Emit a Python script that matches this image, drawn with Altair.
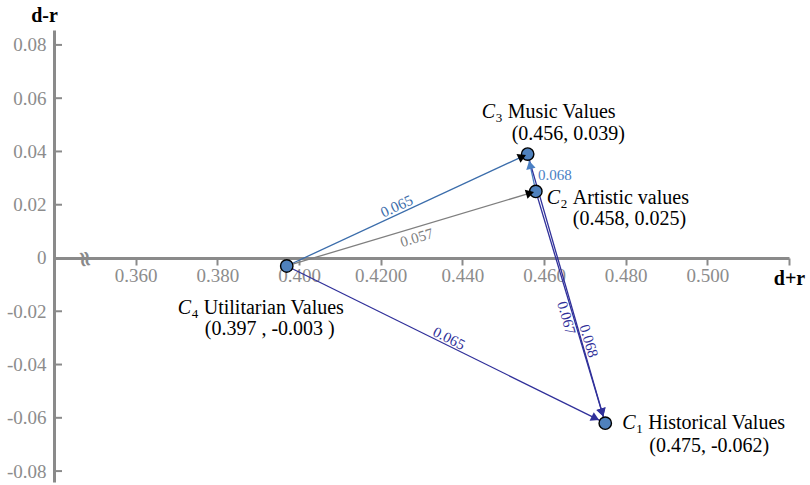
import math

import altair as alt
import pandas as pd

# ---------------------------------------------------------------------------
# Criteria in the cause-effect plane: prominence (d+r) vs. relation (d-r)
# ---------------------------------------------------------------------------
crit_code = ["1", "2", "3", "4"]
crit_name = ["Historical Values", "Artistic values", "Music Values", "Utilitarian Values"]
crit_d_plus_r = [0.475, 0.458, 0.456, 0.397]
crit_d_minus_r = [-0.062, 0.025, 0.039, -0.003]
crit_coord_text = ["(0.475, -0.062)", "(0.458, 0.025)", "(0.456, 0.039)", "(0.397 , -0.003 )"]

# Directed influence relations between criteria
edge_source = ["4", "4", "2", "3", "2", "4"]
edge_target = ["3", "2", "3", "1", "1", "1"]
edge_value = [0.065, 0.057, 0.068, 0.067, 0.068, 0.065]

# Axis ticks
x_tick_values = [0.36, 0.38, 0.40, 0.42, 0.44, 0.46, 0.48, 0.50, 0.52]
x_tick_labels = ["0.360", "0.380", "0.400", "0.4200", "0.440", "0.460", "0.480", "0.500", ""]
y_tick_values = [-0.08, -0.06, -0.04, -0.02, 0, 0.02, 0.04, 0.06, 0.08]

# ---------------------------------------------------------------------------
# Layout and styling
# ---------------------------------------------------------------------------
W, H = 735, 452
X_DOMAIN = [0.34, 0.52]
Y_DOMAIN = [-0.0841, 0.0856]
SERIF = "Liberation Serif"
AXIS_GRAY = "#8a8a8a"
LABEL_GRAY = "#8c8c8c"
DOT_BLUE = "#4f81bd"
DOT_R = 7

edge_color = ["#3b6dab", "#7f7f7f", "#4a80c4", "#30309a", "#30309a", "#30309a"]
head_color = ["black", "black", "#4a80c4", "#30309a", "#30309a", "#30309a"]
head_back = [6, 6, 11, 11, 11, 11]          # arrowhead centre distance from target (px)
label_t = [0.47, 0.51, 0.5, 0.6, 0.655, 0.5]  # label position along each edge
label_off = [-8, 10, None, 8, -8, -7]        # perpendicular offset (px); None = flat label
flat_shift = (23, 2)                          # offset of flat labels from edge midpoint (px)

# pixel offsets (from the point) of the name row start and the coordinate row start
label_layout = {
    "1": {"name": (17, 0), "coord": (44, 23)},
    "2": {"name": (11, 7), "coord": (37, 28)},
    "3": {"name": (-46, -42), "coord": (-16, -20)},
    "4": {"name": (-109, 42), "coord": (-82, 63)},
}


def to_px(x, y):
    px = (x - X_DOMAIN[0]) / (X_DOMAIN[1] - X_DOMAIN[0]) * W
    py = (Y_DOMAIN[1] - y) / (Y_DOMAIN[1] - Y_DOMAIN[0]) * H
    return px, py


def to_data(px, py):
    x = X_DOMAIN[0] + px / W * (X_DOMAIN[1] - X_DOMAIN[0])
    y = Y_DOMAIN[1] - py / H * (Y_DOMAIN[1] - Y_DOMAIN[0])
    return x, y


# ---------------------------------------------------------------------------
# Tables
# ---------------------------------------------------------------------------
points = pd.DataFrame({
    "code": crit_code,
    "name": crit_name,
    "x": crit_d_plus_r,
    "y": crit_d_minus_r,
    "coord": crit_coord_text,
})
pos = {c: (x, y) for c, x, y in zip(crit_code, crit_d_plus_r, crit_d_minus_r)}

rows = []
for c, x, y in zip(crit_code, crit_d_plus_r, crit_d_minus_r):
    px, py = to_px(x, y)
    nx, ny = label_layout[c]["name"]
    cx, cy = label_layout[c]["coord"]
    r = {}
    r["c_x"], r["c_y"] = to_data(px + nx, py + ny)
    r["s_x"], r["s_y"] = to_data(px + nx + 14, py + ny + 6)
    r["n_x"], r["n_y"] = to_data(px + nx + 26, py + ny)
    r["k_x"], r["k_y"] = to_data(px + cx, py + cy)
    rows.append(r)
points = pd.concat([points, pd.DataFrame(rows)], axis=1)

edge_rows = []
for i, (s, t) in enumerate(zip(edge_source, edge_target)):
    x1, y1 = pos[s]
    x2, y2 = pos[t]
    sx, sy = to_px(x1, y1)
    tx, ty = to_px(x2, y2)
    a = math.atan2(ty - sy, tx - sx)
    ux, uy = math.cos(a), math.sin(a)
    mx, my = sx + label_t[i] * (tx - sx), sy + label_t[i] * (ty - sy)
    if label_off[i] is None:
        lx, ly = sx + 0.5 * (tx - sx) + flat_shift[0], sy + 0.5 * (ty - sy) + flat_shift[1]
        ang = 0.0
    else:
        lx = mx - math.sin(a) * label_off[i]
        ly = my + math.cos(a) * label_off[i]
        ang = math.degrees(a) % 360
    hx, hy = tx - ux * head_back[i], ty - uy * head_back[i]
    ldx, ldy = to_data(lx, ly)
    hdx, hdy = to_data(hx, hy)
    edge_rows.append({
        "x": x1, "y": y1, "x2": x2, "y2": y2,
        "color": edge_color[i],
        "label": f"{edge_value[i]:.3f}",
        "lx": ldx, "ly": ldy, "angle": ang,
        "hx": hdx, "hy": hdy, "hangle": math.degrees(a) % 360,
        "hcolor": head_color[i],
    })
edges = pd.DataFrame(edge_rows)

yticks = pd.DataFrame({"v": [v for v in y_tick_values if v != 0]})

# ---------------------------------------------------------------------------
# Scales and axes (the same axis definitions are shared by every layer)
# ---------------------------------------------------------------------------
xs = alt.Scale(domain=X_DOMAIN, nice=False, zero=False)
ys = alt.Scale(domain=Y_DOMAIN, nice=False, zero=False)
zero_px = to_px(0.36, 0)[1]
x_offset = -(H - zero_px)

label_array = "[" + ",".join(f"'{s}'" for s in x_tick_labels) + "]"
x_axis = alt.Axis(
    values=x_tick_values,
    labelExpr=f"{label_array}[round((datum.value - {x_tick_values[0]}) / 0.02)]",
    offset=x_offset,
    grid=False,
    domainColor=AXIS_GRAY, domainWidth=3,
    tickColor=AXIS_GRAY, tickWidth=2, tickSize=7,
    labelFont=SERIF, labelFontSize=19, labelColor=LABEL_GRAY,
    labelPadding=2, labelFlush=False, labelOverlap=False,
    title="d+r", titleFont=SERIF, titleFontSize=20, titleFontWeight="bold",
    titleColor="black", titleX=W, titleY=21, titleAlign="center",
    titleBaseline="middle",
)
y_axis = alt.Axis(
    values=y_tick_values,
    labelExpr="datum.value == 0 ? '0' : (datum.value < 0 ? '-' : '') + format(abs(datum.value), '.2f')",
    grid=False, ticks=False,
    domainColor=AXIS_GRAY, domainWidth=3,
    labelFont=SERIF, labelFontSize=19, labelColor=LABEL_GRAY,
    labelPadding=8, labelFlush=False, labelOverlap=False,
    title="d-r", titleFont=SERIF, titleFontSize=20, titleFontWeight="bold",
    titleColor="black", titleAngle=0, titleX=-10, titleY=-15,
    titleAlign="center", titleBaseline="middle",
)


def X(field):
    return alt.X(field, scale=xs, axis=x_axis)


def Y(field):
    return alt.Y(field, scale=ys, axis=y_axis)


# ---------------------------------------------------------------------------
# Layers
# ---------------------------------------------------------------------------
ytick_rules = alt.Chart(yticks).mark_rule(color=AXIS_GRAY, strokeWidth=2).encode(
    y=Y("v:Q"),
    x=alt.value(0),
    x2=alt.value(8),
)

edge_lines = alt.Chart(edges).mark_rule(strokeWidth=1.3).encode(
    x=X("x:Q"),
    y=Y("y:Q"),
    x2="x2:Q",
    y2="y2:Q",
    color=alt.Color("color:N", scale=None),
)

edge_labels = alt.Chart(edges).mark_text(
    font=SERIF, fontSize=15, align="center", baseline="middle"
).encode(
    x=X("lx:Q"),
    y=Y("ly:Q"),
    text="label:N",
    angle=alt.Angle("angle:Q", scale=None),
    color=alt.Color("color:N", scale=None),
)

dots = alt.Chart(points).mark_circle(
    size=math.pi * DOT_R ** 2, color=DOT_BLUE, opacity=1, stroke="black", strokeWidth=1.4
).encode(
    x=X("x:Q"),
    y=Y("y:Q"),
)

heads = alt.Chart(edges).mark_point(
    shape="triangle-right", filled=True, size=90, opacity=1, strokeWidth=0
).encode(
    x=X("hx:Q"),
    y=Y("hy:Q"),
    angle=alt.Angle("hangle:Q", scale=None),
    color=alt.Color("hcolor:N", scale=None),
)

text_style = dict(font=SERIF, color="black", align="left", baseline="middle")

c_letter = alt.Chart(points).mark_text(
    text="C", fontSize=20, fontStyle="italic", **text_style
).encode(x=X("c_x:Q"), y=Y("c_y:Q"))

c_sub = alt.Chart(points).mark_text(fontSize=13, **text_style).encode(
    x=X("s_x:Q"), y=Y("s_y:Q"), text="code:N"
)

c_name = alt.Chart(points).mark_text(fontSize=20, **text_style).encode(
    x=X("n_x:Q"), y=Y("n_y:Q"), text="name:N"
)

c_coord = alt.Chart(points).mark_text(fontSize=20, **text_style).encode(
    x=X("k_x:Q"), y=Y("k_y:Q"), text="coord:N"
)

# axis break symbol on the d+r axis near the origin
axis_break = alt.Chart(pd.DataFrame({"s": ["≈"]})).mark_text(
    font="DejaVu Sans", fontSize=22, fontWeight="bold", color=AXIS_GRAY, angle=80,
    align="center", baseline="middle"
).encode(
    x=alt.value(31),
    y=alt.value(zero_px + 1),
    text="s:N",
)

chart = alt.layer(
    ytick_rules, edge_lines, edge_labels, dots, heads,
    c_letter, c_sub, c_name, c_coord, axis_break,
).properties(
    width=W,
    height=H,
    padding={"left": 54, "top": 30, "right": 21, "bottom": 3},
    autosize=alt.AutoSizeParams(type="none"),
).configure_view(stroke=None)

chart.save("out.html", embed_options={"renderer": "svg", "actions": False})
